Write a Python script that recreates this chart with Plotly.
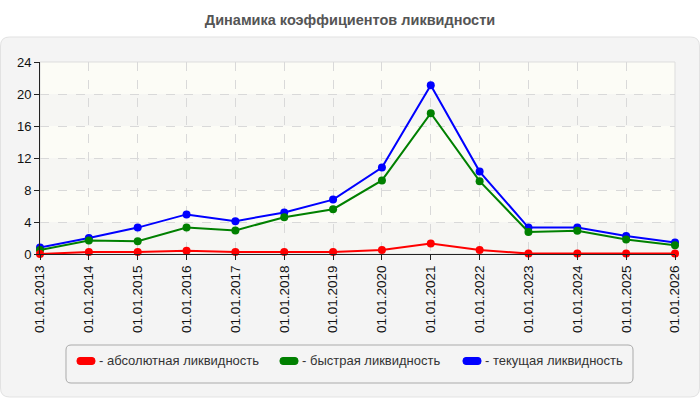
import plotly.graph_objects as go

dates = ["01.01.2013", "01.01.2014", "01.01.2015", "01.01.2016", "01.01.2017",
         "01.01.2018", "01.01.2019", "01.01.2020", "01.01.2021", "01.01.2022",
         "01.01.2023", "01.01.2024", "01.01.2025", "01.01.2026"]
absolute = [0.0, 0.25, 0.25, 0.4, 0.25, 0.25, 0.25, 0.5, 1.3, 0.5, 0.05, 0.05, 0.05, 0.05]
quick = [0.5, 1.7, 1.6, 3.3, 2.95, 4.6, 5.6, 9.2, 17.6, 9.1, 2.75, 2.9, 1.8, 1.1]
current = [0.8, 2.0, 3.3, 4.95, 4.1, 5.2, 6.8, 10.8, 21.1, 10.3, 3.3, 3.3, 2.25, 1.45]
names = ["абсолютная ликвидность", "быстрая ликвидность", "текущая ликвидность"]
colors = ["#ff0000", "#008000", "#0000ff"]
title = "Динамика коэффициентов ликвидности"
y_ticks = [0, 4, 8, 12, 16, 20, 24]

W, H = 700, 400
L, R, T, B = 40, 675, 62, 254


def px(X):
    return (X - L) / (R - L)


def py(Y):
    return (B - Y) / (B - T)


def rounded(x0, y0, x1, y1, r):
    p = lambda X, Y: f"{px(X):.5f},{py(Y):.5f}"
    s = f"M {p(x0 + r, y0)} L {p(x1 - r, y0)} Q {p(x1, y0)} {p(x1, y0 + r)} "
    s += f"L {p(x1, y1 - r)} Q {p(x1, y1)} {p(x1 - r, y1)} "
    s += f"L {p(x0 + r, y1)} Q {p(x0, y1)} {p(x0, y1 - r)} "
    s += f"L {p(x0, y0 + r)} Q {p(x0, y0)} {p(x0 + r, y0)} Z"
    return s


fig = go.Figure()
series = [current, quick, absolute]
order = [2, 1, 0]
for idx, vals in zip(order, series):
    fig.add_trace(go.Scatter(
        x=dates, y=vals, mode="lines+markers", name=names[idx],
        line=dict(color=colors[idx], width=2),
        marker=dict(color=colors[idx], size=8),
        cliponaxis=False, showlegend=False))

shapes = []
shapes.append(dict(type="path", xref="paper", yref="paper", layer="below",
                   path=rounded(0.5, 37, 699.5, 397, 9),
                   fillcolor="#f4f4f4", line=dict(color="#e2e2e2", width=1)))
for i in range(len(y_ticks) - 1):
    shapes.append(dict(type="rect", xref="paper", yref="y", layer="below",
                       x0=0, x1=1, y0=y_ticks[i], y1=y_ticks[i + 1],
                       fillcolor="#f6f6f3" if i % 2 == 0 else "#fcfcf6",
                       line=dict(width=0)))
shapes.append(dict(type="rect", xref="paper", yref="paper", layer="below",
                   x0=0, x1=1, y0=0, y1=1, fillcolor="rgba(0,0,0,0)",
                   line=dict(color="#dddddd", width=1)))
shapes.append(dict(type="path", xref="paper", yref="paper", layer="above",
                   path=rounded(66, 345, 633, 383, 5),
                   fillcolor="#f4f4f4", line=dict(color="#aaaaaa", width=1)))
sw_x = [77, 280, 463]
annotations = []
for i in range(3):
    shapes.append(dict(type="path", xref="paper", yref="paper", layer="above",
                       path=rounded(sw_x[i], 357.5, sw_x[i] + 18, 364.5, 3),
                       fillcolor=colors[i], line=dict(color=colors[i], width=1)))
    annotations.append(dict(xref="paper", yref="paper", x=px(sw_x[i] + 20), y=py(360),
                            xanchor="left", yanchor="middle", showarrow=False,
                            text="- " + names[i],
                            font=dict(family="Liberation Sans, Arial", size=13, color="#333333")))

fig.update_layout(
    width=W, height=H,
    margin=dict(l=L, r=W - R, t=T, b=H - B),
    paper_bgcolor="#ffffff", plot_bgcolor="rgba(0,0,0,0)",
    title=dict(text="<b>" + title + "</b>", x=0.5, xanchor="center",
               y=1 - 20 / H, yanchor="middle",
               font=dict(family="Liberation Sans, Arial", size=14.5, color="#555555")),
    shapes=shapes, annotations=annotations,
    font=dict(family="Liberation Sans, Arial", size=13, color="#111111"),
    xaxis=dict(type="category", range=[0, len(dates) - 1], tickangle=-90,
               showgrid=True, gridcolor="#d9d9d9", griddash="dash", gridwidth=1,
               showline=True, linecolor="#222222", linewidth=1,
               ticks="outside", ticklen=5, tickcolor="#222222",
               tickfont=dict(size=13.5, color="#111111"), zeroline=False),
    yaxis=dict(range=[0, 24], tickvals=y_ticks,
               showgrid=True, gridcolor="#d9d9d9", griddash="dash", gridwidth=1,
               showline=True, linecolor="#222222", linewidth=1,
               ticks="outside", ticklen=5, tickcolor="#222222",
               tickfont=dict(size=13, color="#111111"), zeroline=False),
)

fig.write_html("out.html")
